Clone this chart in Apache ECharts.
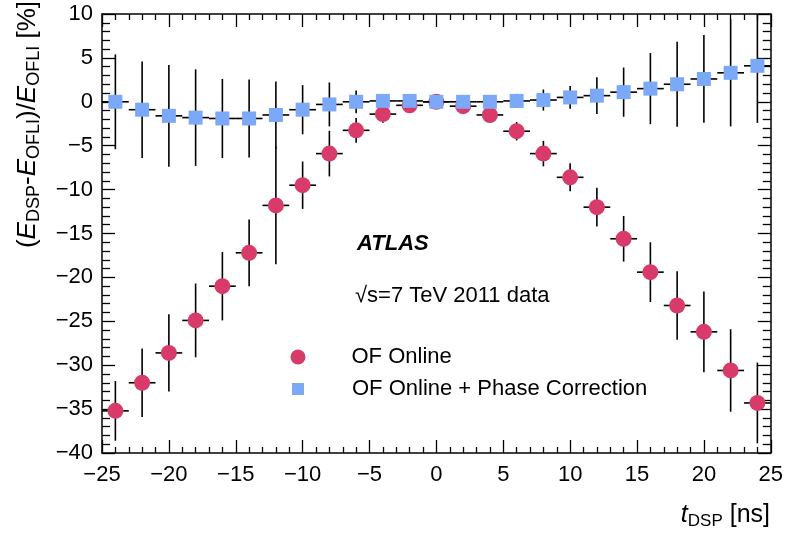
<!DOCTYPE html>
<html>
<head>
<meta charset="utf-8">
<script src="https://cdn.jsdelivr.net/npm/echarts@6/dist/echarts.min.js"></script>
<style>
html,body{margin:0;padding:0;background:#fff;}
#chart{width:786px;height:536px;}
</style>
</head>
<body>
<div id="chart"></div>
<script>
// ---- data ----
const tDSP = [-24,-22,-20,-18,-16,-14,-12,-10,-8,-6,-4,-2,0,2,4,6,8,10,12,14,16,18,20,22,24];
const tHalfWidth = 1;
const onlineVals = [-35.2,-32.0,-28.6,-24.9,-21.0,-17.2,-11.8,-9.5,-5.9,-3.25,-1.4,-0.4,0.0,-0.5,-1.5,-3.35,-5.9,-8.6,-12.0,-15.6,-19.4,-23.2,-26.2,-30.6,-34.3];
const onlineErrs = [3.4,3.9,4.4,4.2,3.9,3.8,6.7,2.7,2.6,1.4,1.0,0.4,0.3,0.4,0.9,1.05,1.45,1.6,2.2,2.6,3.4,3.9,4.6,4.7,4.6];
const phaseVals = [0.0,-0.9,-1.6,-1.8,-1.9,-1.9,-1.5,-0.9,-0.3,0.0,0.1,0.1,0.0,0.0,0.0,0.1,0.2,0.5,0.7,1.1,1.5,2.0,2.6,3.3,4.1];
const phaseErrs = [5.4,5.5,5.8,5.5,4.5,4.45,3.8,2.8,2.5,1.3,0.8,0.3,0.2,0.3,0.5,0.8,1.2,1.3,2.1,2.8,4.05,4.85,5.0,6.1,6.5];
const xMin = -25, xMax = 25, yMin = -40, yMax = 10;
const seriesNames = ['OF Online', 'OF Online + Phase Correction'];

const FONT = '"Liberation Sans", Arial, Helvetica, sans-serif';
const RED = '#d83b69';
const BLUE = '#7ba8f7';

const onlineData = tDSP.map((x, i) => [x, onlineVals[i], onlineErrs[i]]);
const phaseData = tDSP.map((x, i) => [x, phaseVals[i], phaseErrs[i]]);

function minusFmt(v) { return String(v).replace('-', '\u2212'); }

function errRender(params, api) {
  const x = api.value(0), y = api.value(1), e = api.value(2);
  const hi = Math.min(y + e, yMax), lo = Math.max(y - e, yMin);
  const p1 = api.coord([x, hi]), p2 = api.coord([x, lo]);
  const q1 = api.coord([Math.max(x - tHalfWidth, xMin), y]), q2 = api.coord([Math.min(x + tHalfWidth, xMax), y]);
  const st = { stroke: '#000', lineWidth: 1.6 };
  return {
    type: 'group',
    children: [
      { type: 'line', shape: { x1: p1[0], y1: p1[1], x2: p2[0], y2: p2[1] }, style: st },
      { type: 'line', shape: { x1: q1[0], y1: q1[1], x2: q2[0], y2: q2[1] }, style: st }
    ]
  };
}

const axisLineStyle = { show: true, onZero: false, lineStyle: { color: '#000', width: 1.5 } };
const tickStyle = { show: true, inside: true, length: 13, lineStyle: { color: '#000', width: 1.3 } };

const option = {
  animation: false,
  backgroundColor: '#fff',
  textStyle: { fontFamily: FONT },
  grid: { left: 102, right: 14.5, top: 14, bottom: 83, containLabel: false },
  xAxis: [
    {
      type: 'value', min: xMin, max: xMax, interval: 5, position: 'bottom',
      axisLine: axisLineStyle, axisTick: tickStyle,
      minorTick: { show: true, splitNumber: 5, length: 6, lineStyle: { color: '#000', width: 1.3 } },
      splitLine: { show: false },
      axisLabel: { color: '#000', fontSize: 22, fontFamily: FONT, margin: 11, formatter: minusFmt }
    },
    {
      type: 'value', min: xMin, max: xMax, interval: 5, position: 'top',
      axisLine: axisLineStyle, axisTick: tickStyle,
      minorTick: { show: true, splitNumber: 5, length: 6, lineStyle: { color: '#000', width: 1.3 } },
      splitLine: { show: false },
      axisLabel: { show: false }
    }
  ],
  yAxis: [
    {
      type: 'value', min: yMin, max: yMax, interval: 5, position: 'left',
      axisLine: axisLineStyle, axisTick: tickStyle,
      minorTick: { show: true, splitNumber: 5, length: 8, lineStyle: { color: '#000', width: 1.3 } },
      splitLine: { show: false },
      axisLabel: { color: '#000', fontSize: 22, fontFamily: FONT, margin: 9, formatter: minusFmt }
    },
    {
      type: 'value', min: yMin, max: yMax, interval: 5, position: 'right',
      axisLine: axisLineStyle, axisTick: tickStyle,
      minorTick: { show: true, splitNumber: 5, length: 8, lineStyle: { color: '#000', width: 1.3 } },
      splitLine: { show: false },
      axisLabel: { show: false }
    }
  ],
  legend: [
    {
      data: [{ name: seriesNames[0], icon: 'circle' }],
      left: 285.5, top: 341, itemWidth: 15, itemHeight: 15,
      textStyle: { fontSize: 22, color: '#000', fontFamily: FONT, padding: [0, 0, 0, 41], lineHeight: 22 },
      selectedMode: false
    },
    {
      data: [{ name: seriesNames[1], icon: 'rect' }],
      left: 287, top: 373, itemWidth: 12, itemHeight: 12,
      textStyle: { fontSize: 22, color: '#000', fontFamily: FONT, padding: [0, 0, 0, 43], lineHeight: 22 },
      selectedMode: false
    }
  ],
  series: [
    {
      name: seriesNames[0] + ' err', type: 'custom', xAxisIndex: 0, yAxisIndex: 0,
      renderItem: errRender, data: onlineData, encode: { x: 0, y: 1 }, silent: true, z: 2
    },
    {
      name: seriesNames[0], type: 'scatter', xAxisIndex: 0, yAxisIndex: 0,
      symbol: 'circle', symbolSize: 16, itemStyle: { color: RED, opacity: 1 },
      data: onlineData.map(d => [d[0], d[1]]), z: 3
    },
    {
      name: seriesNames[1] + ' err', type: 'custom', xAxisIndex: 0, yAxisIndex: 0,
      renderItem: errRender, data: phaseData, encode: { x: 0, y: 1 }, silent: true, z: 4
    },
    {
      name: seriesNames[1], type: 'scatter', xAxisIndex: 0, yAxisIndex: 0,
      symbol: 'rect', symbolSize: 14, itemStyle: { color: BLUE, opacity: 1 },
      data: phaseData.map(d => [d[0], d[1]]), z: 5
    }
  ],
  graphic: [
    {
      type: 'text', x: 28, y: 1, rotation: Math.PI / 2,
      style: {
        text: '{p|(}{i|E}{s|DSP}{p|-}{i|E}{s|OFLI}{p|)/}{i|E}{s|OFLI}{p| [%]}',
        align: 'right', verticalAlign: 'middle', fill: '#000',
        rich: {
          p: { fontSize: 26, fontFamily: FONT, lineHeight: 31, verticalAlign: 'middle' },
          i: { fontSize: 26, fontFamily: FONT, fontStyle: 'italic', lineHeight: 31, verticalAlign: 'middle' },
          s: { fontSize: 18, fontFamily: FONT, lineHeight: 18, verticalAlign: 'bottom' }
        }
      }
    },
    {
      type: 'text', x: 770, y: 515,
      style: {
        text: '{i|t}{s|DSP}{p| [ns]}',
        align: 'right', verticalAlign: 'middle', fill: '#000',
        rich: {
          p: { fontSize: 25, fontFamily: FONT, lineHeight: 30, verticalAlign: 'middle' },
          i: { fontSize: 25, fontFamily: FONT, fontStyle: 'italic', lineHeight: 30, verticalAlign: 'middle' },
          s: { fontSize: 17, fontFamily: FONT, lineHeight: 17, verticalAlign: 'bottom' }
        }
      }
    },
    {
      type: 'text', x: 357, y: 244,
      style: { text: 'ATLAS', fontSize: 22, fontWeight: 'bold', fontStyle: 'italic', fontFamily: FONT, fill: '#000', align: 'left', verticalAlign: 'middle' }
    },
    {
      type: 'text', x: 355, y: 296,
      style: { text: '\u221As=7 TeV 2011 data', fontSize: 22, fontFamily: FONT, fill: '#000', align: 'left', verticalAlign: 'middle' }
    }
  ]
};

const chart = echarts.init(document.getElementById('chart'), null, { renderer: 'canvas' });
chart.setOption(option);
</script>
</body>
</html>
